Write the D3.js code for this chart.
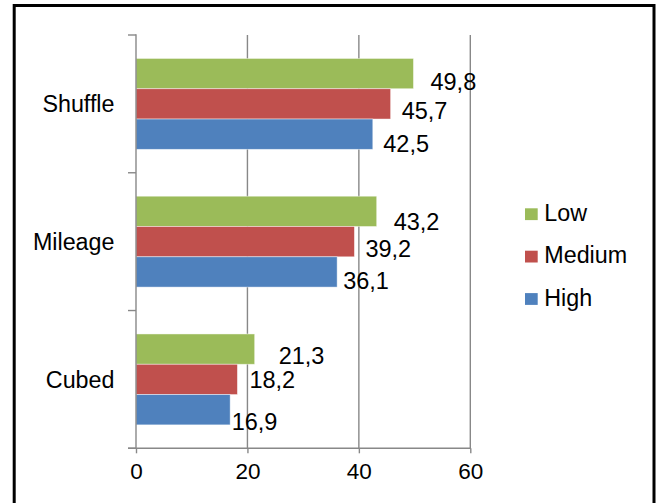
<!DOCTYPE html>
<html>
<head>
<meta charset="utf-8">
<script src="https://cdn.jsdelivr.net/npm/d3@7"></script>
<style>
  html, body { margin: 0; padding: 0; background: #fff; }
  svg { display: block; font-family: "Liberation Sans", Arial, sans-serif; }
</style>
</head>
<body>
<svg id="chart" width="657" height="503"></svg>
<script>
// Categories, listed bottom to top as they appear on the axis
const categories = ["Cubed", "Mileage", "Shuffle"];
// Series, in legend order (top to bottom)
const seriesNames = ["Low", "Medium", "High"];
const lowValues    = [21.3, 43.2, 49.8];
const mediumValues = [18.2, 39.2, 45.7];
const highValues   = [16.9, 36.1, 42.5];
const xTicks = [0, 20, 40, 60];

const seriesValues = [lowValues, mediumValues, highValues];
const seriesColors = ["#9BBB59", "#C0504D", "#4F81BD"];

// Hand-placed offsets of each value label from its bar end: [dx, dy]
// indexed [series][category]
const labelNudge = [
  [[24, 15], [17, 19], [17, 16]],
  [[12, 9],  [11, 15], [11, 15]],
  [[1.5, 20], [6, 17], [10.5, 18]]
];

const svg = d3.select("#chart");
const plot = { left: 136, right: 470.3, top: 35, bottom: 448.3 };

const x = d3.scaleLinear().domain([0, 60]).range([plot.left, plot.right]);
const y = d3.scaleBand()
  .domain(categories.slice().reverse())
  .range([plot.top, plot.bottom])
  .paddingInner(0).paddingOuter(0);
const barH = 30.3;
const groupH = barH * seriesNames.length;
const barY = (ci, si) => y(categories[ci]) + (y.bandwidth() - groupH) / 2 + si * barH;

const gridColor = "#888888";

// Outer frame (left, top, right)
svg.append("path")
  .attr("d", "M14.2,510 L14.2,5.5 L654,5.5 L654,510")
  .attr("fill", "none").attr("stroke", "#000").attr("stroke-width", 3);

// Vertical gridlines
svg.append("g").selectAll("line")
  .data(xTicks.slice(1))
  .join("line")
  .attr("x1", d => x(d)).attr("x2", d => x(d))
  .attr("y1", plot.top).attr("y2", plot.bottom)
  .attr("stroke", gridColor).attr("stroke-width", 1.4);

// Bars
seriesValues.forEach((vals, si) => {
  svg.append("g").selectAll("rect")
    .data(vals)
    .join("rect")
    .attr("x", x(0))
    .attr("y", (d, ci) => barY(ci, si))
    .attr("width", d => x(d) - x(0))
    .attr("height", barH)
    .attr("fill", seriesColors[si])
    .attr("stroke", "rgba(255,255,255,0.55)")
    .attr("stroke-width", 0.8);
});

// X axis
const xAxis = d3.axisBottom(x).tickValues(xTicks).tickSize(5).tickPadding(10).tickSizeOuter(0);
const gx = svg.append("g")
  .attr("transform", `translate(0,${plot.bottom})`)
  .call(xAxis);
gx.select(".domain").remove();
gx.selectAll(".tick line").attr("stroke", gridColor).attr("stroke-width", 1.4);
gx.selectAll(".tick text")
  .attr("fill", "#000").attr("font-size", 22.5)
  .attr("font-family", "'Liberation Sans', Arial, sans-serif");
gx.append("line")
  .attr("x1", 128).attr("x2", plot.right + 0.7)
  .attr("y1", 0).attr("y2", 0)
  .attr("stroke", gridColor).attr("stroke-width", 1.4);

// Y axis: line with boundary ticks between categories
const gy = svg.append("g");
gy.append("line")
  .attr("x1", plot.left).attr("x2", plot.left)
  .attr("y1", plot.top - 0.7).attr("y2", plot.bottom)
  .attr("stroke", gridColor).attr("stroke-width", 1.4);
const boundaries = categories.map(c => y(c)).concat([plot.bottom]);
gy.selectAll("line.tk")
  .data(boundaries)
  .join("line").attr("class", "tk")
  .attr("x1", 128).attr("x2", plot.left)
  .attr("y1", d => d).attr("y2", d => d)
  .attr("stroke", gridColor).attr("stroke-width", 1.4);
gy.selectAll("text")
  .data(categories)
  .join("text")
  .attr("x", 114.5)
  .attr("y", d => y(d) + y.bandwidth() / 2 + 8.2)
  .attr("text-anchor", "end")
  .attr("font-size", 23.3)
  .attr("fill", "#000")
  .text(d => d);

// Value labels (decimal comma)
const fmt = v => d3.format(".1f")(v).replace(".", ",");
seriesValues.forEach((vals, si) => {
  svg.append("g").selectAll("text")
    .data(vals)
    .join("text")
    .attr("x", (d, ci) => x(d) + labelNudge[si][ci][0])
    .attr("y", (d, ci) => barY(ci, si) + barH / 2 + labelNudge[si][ci][1])
    .attr("font-size", 23.5)
    .attr("fill", "#000")
    .text(d => fmt(d));
});

// Legend
const legend = svg.append("g");
seriesNames.forEach((name, i) => {
  const ly = 208.3 + i * 42.4;
  legend.append("rect")
    .attr("x", 525).attr("y", ly)
    .attr("width", 12.7).attr("height", 11.8)
    .attr("fill", seriesColors[i]);
  legend.append("text")
    .attr("x", 544.3).attr("y", ly + 12.7)
    .attr("font-size", 23.3)
    .attr("fill", "#000")
    .text(name);
});
</script>
</body>
</html>
